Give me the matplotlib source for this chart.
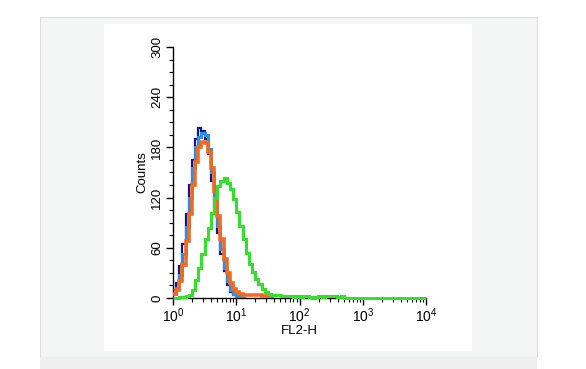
import numpy as np
import matplotlib
matplotlib.use("Agg")
import matplotlib.pyplot as plt
from matplotlib.patches import Rectangle
from matplotlib.ticker import LogLocator, MultipleLocator, NullFormatter, FixedLocator

plt.rcParams['font.family'] = ['Liberation Sans', 'DejaVu Sans']
plt.rcParams['mathtext.fontset'] = 'custom'
plt.rcParams['mathtext.rm'] = 'Liberation Sans'

# channel scale: 4 decades, 20 bins per decade
decades = 4
bins_per_decade = 20

navy = [10, 18, 38, 65, 100, 135, 165, 190, 203, 200, 190, 172, 140, 108, 78, 52,
        32, 16, 7, 3, 1, 0]
light_blue = [5, 12, 28, 52, 85, 120, 155, 180, 193, 197, 195, 178, 150, 118, 86, 58,
              36, 20, 10, 5, 2, 1, 0]
orange = [5, 9, 20, 40, 68, 100, 135, 163, 180, 186, 185, 175, 155, 128, 98, 70,
          47, 30, 18, 11, 7, 5, 4, 4, 3, 3, 3, 3, 2, 2, 1, 0]
green = [0, 0, 1, 1, 2, 4, 10, 21, 36, 53, 70, 84, 102, 120, 134, 140,
         143, 138, 130, 118, 103, 86, 70, 54, 41, 31, 23, 17, 11, 7,
         5, 4, 3, 3, 2, 2, 2, 2, 1, 2, 1, 2, 2, 1, 0, 1, 2, 1, 2, 2,
         2, 2, 1, 2, 0]

y_ticks = [0, 60, 120, 180, 240, 300]
x_ticks = [1, 10, 100, 1000, 10000]
x_labels = [r'$\mathregular{10^{0}}$', r'$\mathregular{10^{1}}$', r'$\mathregular{10^{2}}$',
            r'$\mathregular{10^{3}}$', r'$\mathregular{10^{4}}$']

nbins = decades * bins_per_decade
edges = np.logspace(0, decades, nbins + 1)

def pad(v):
    return np.array(list(v) + [0] * (nbins - len(v)), dtype=float)

W, H = 586, 369
fig = plt.figure(figsize=(W / 100, H / 100), dpi=100)
fig.patch.set_facecolor('white')

def prect(x0, y0, x1, y1, fc, ec='none', lw=0, z=-10):
    fig.patches.append(Rectangle((x0 / W, 1 - y1 / H), (x1 - x0) / W, (y1 - y0) / H,
                                 transform=fig.transFigure, facecolor=fc,
                                 edgecolor=ec, linewidth=lw, zorder=z))

prect(40, 17, 537, 357, '#f4f6f5', '#dcdddc', 0.8, -10)
prect(40, 357, 537, 369, '#eeefee', 'none', 0, -10)
prect(104, 24, 472, 351, 'white', 'none', 0, -9)

ax = fig.add_axes([173 / W, 1 - 298 / H, (426 - 173) / W, (298 - 47) / H])
ax.set_zorder(5)
ax.set_facecolor('none')
ax.set_xscale('log')
ax.set_xlim(1, 1e4)
ax.set_ylim(0, 300)

ax.stairs(navy, edges[:len(navy) + 1], color='#0b1890', lw=1.6, baseline=None, zorder=3)
ax.stairs(light_blue, edges[:len(light_blue) + 1], color='#2b8fe6', lw=2.2, baseline=None, zorder=4)
ax.stairs(orange, edges[:len(orange) + 1], color='#f26a1e', lw=2.6, baseline=None, zorder=5)
ax.stairs(pad(green), edges, color='#35e02c', lw=2.2, baseline=None, zorder=6, clip_on=False)

for s in ['top', 'right']:
    ax.spines[s].set_visible(False)
for s in ['left', 'bottom']:
    ax.spines[s].set_color('black')
    ax.spines[s].set_linewidth(1.0)

ax.yaxis.set_major_locator(FixedLocator(y_ticks))
ax.yaxis.set_minor_locator(MultipleLocator(15))
ax.set_yticklabels([str(v) for v in y_ticks], rotation=90, va='center', fontsize=9.5)
ax.xaxis.set_major_locator(FixedLocator(x_ticks))
ax.set_xticklabels(x_labels, fontsize=10)
ax.xaxis.set_minor_locator(LogLocator(base=10, subs=np.arange(2, 10)))
ax.xaxis.set_minor_formatter(NullFormatter())

ax.tick_params(axis='both', which='major', direction='out', length=5, width=1.0, colors='black', pad=2)
ax.tick_params(axis='both', which='minor', direction='out', length=3, width=0.8, colors='black')
ax.tick_params(axis='x', which='major', pad=1)

ax.set_ylabel('Counts', fontsize=9.5, labelpad=2)
ax.set_xlabel('FL2-H', fontsize=9.5, labelpad=0)

fig.savefig('out.png', dpi=100, facecolor='white')
